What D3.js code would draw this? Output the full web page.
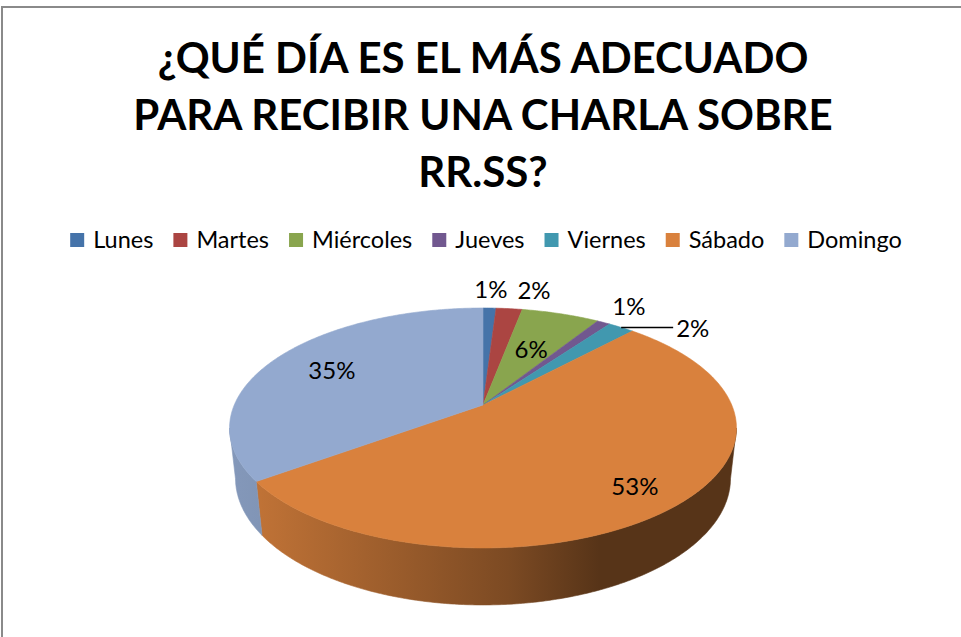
<!DOCTYPE html>
<html>
<head>
<meta charset="utf-8">
<script src="https://cdn.jsdelivr.net/npm/d3@7"></script>
<style>
  body { margin: 0; background: #fff; }
  text { font-family: Lato, "Open Sans", sans-serif; }
</style>
</head>
<body>
<div id="chart"></div>
<script>
const titleLines = ['¿QUÉ DÍA ES EL MÁS ADECUADO', 'PARA RECIBIR UNA CHARLA SOBRE', 'RR.SS?'];
const days = ['Lunes', 'Martes', 'Miércoles', 'Jueves', 'Viernes', 'Sábado', 'Domingo'];
const shares = [1, 2, 6, 1, 2, 53, 35];
const colors = ['#4573A9', '#AB4542', '#89A54E', '#71588F', '#4198AF', '#D9813D', '#93A9CF'];

const width = 961, height = 637;
const svg = d3.select('#chart')
    .append('svg')
    .attr('width', width)
    .attr('height', height);

// outer frame (only top and left visible)
svg.append('rect')
    .attr('x', 2).attr('y', 7)
    .attr('width', 1200).attr('height', 1200)
    .attr('fill', 'none')
    .attr('stroke', '#8a8a8a')
    .attr('stroke-width', 2);

// title
svg.selectAll('.title')
    .data(titleLines)
    .enter()
    .append('text')
    .attr('class', 'title')
    .attr('x', 483)
    .attr('y', (d, i) => 73 + i * 57)
    .attr('text-anchor', 'middle')
    .style('font-weight', 'bold')
    .style('font-size', '42px')
    .text(d => d);

// legend
const legend = svg.append('g');
const items = legend.selectAll('.item')
    .data(days)
    .enter()
    .append('g')
    .attr('class', 'item');
items.append('rect')
    .attr('width', 14).attr('height', 14)
    .attr('y', 233)
    .attr('fill', (d, i) => colors[i]);
items.append('text')
    .attr('y', 248)
    .style('font-size', '23.5px')
    .text(d => d);
let lx = 0;
items.each(function () {
    const g = d3.select(this);
    const w = g.select('text').node().getComputedTextLength();
    g.attr('transform', `translate(${lx},0)`);
    g.select('text').attr('x', 23);
    lx += 23 + w + 20;
});
lx -= 20;
legend.attr('transform', `translate(${486 - lx / 2},0)`);

// 3D pie with perspective projection
const cx = 483, cy = 405, F = 1150, R = 0.2163, H = 0.0498;
const phi = Math.asin(0.4646), sinP = Math.sin(phi), cosP = Math.cos(phi);
function proj(t, rho, lvl) {
    const X = R * rho * Math.sin(t), Z = R * rho * Math.cos(t), Y = -H * lvl;
    const depth = 1 + Z * cosP - Y * sinP;
    return [cx + F * X / depth, cy - F * (Y * cosP + Z * sinP) / depth];
}
function arcPts(a, b, rho, lvl) {
    const n = Math.max(2, Math.ceil(Math.abs(b - a) / 0.01));
    return d3.range(n + 1).map(i => proj(a + (b - a) * i / n, rho, lvl));
}

const pie = d3.pie().sort(null).value(d => d);
const arcs = pie(shares);
const total = d3.sum(shares);

const k = R * cosP;
const visA = Math.acos(-k), visB = 2 * Math.PI - visA;
const xs = d3.range(0, 2 * Math.PI, 0.01).map(t => proj(t, 1, 0)[0]);
const x0 = d3.min(xs), x1 = d3.max(xs);

const defs = svg.append('defs');
const shade = [[0, 0.9], [0.06, 0.88], [0.55, 0.57], [0.73, 0.40], [1, 0.40]];
arcs.forEach((a, i) => {
    const g = defs.append('linearGradient')
        .attr('id', 'side' + i)
        .attr('gradientUnits', 'userSpaceOnUse')
        .attr('x1', x0).attr('x2', x1).attr('y1', 0).attr('y2', 0);
    shade.forEach(s => {
        g.append('stop')
            .attr('offset', s[0])
            .attr('stop-color', d3.interpolateRgb('#000', colors[i])(s[1]));
    });
});

const line = d3.line();
const pieG = svg.append('g');

// outer walls (front part only)
arcs.forEach((a, i) => {
    const s = Math.max(a.startAngle, visA), e = Math.min(a.endAngle, visB);
    if (e <= s) return;
    const pts = arcPts(s, e, 1, 0).concat(arcPts(e, s, 1, 1));
    pieG.append('path')
        .attr('d', line(pts) + 'Z')
        .attr('fill', `url(#side${i})`)
        .attr('stroke', `url(#side${i})`)
        .attr('stroke-width', 0.6);
});

// top faces
arcs.forEach((a, i) => {
    const pts = [proj(0, 0, 0)].concat(arcPts(a.startAngle, a.endAngle, 1, 0));
    pieG.append('path')
        .attr('d', line(pts) + 'Z')
        .attr('fill', colors[i])
        .attr('stroke', colors[i])
        .attr('stroke-width', 0.6);
});

// data labels
const placed = [];
const labelG = svg.append('g');
arcs.forEach((a, i) => {
    const frac = a.value / total;
    const mid = (a.startAngle + a.endAngle) / 2;
    const inside = frac >= 0.05;
    const rho = inside ? 0.55 + 0.5 * frac : 1.25;
    let [x, y] = proj(mid, rho, 0);
    const t = labelG.append('text')
        .attr('text-anchor', 'middle')
        .attr('dominant-baseline', 'central')
        .style('font-size', '24px')
        .text(Math.round(frac * 100) + '%');
    const w = t.node().getComputedTextLength(), h = 16;
    if (!inside) {
        const prev = placed[placed.length - 1];
        if (prev && Math.abs(prev.y - y) < h + 2 && x - w / 2 < prev.x + prev.w / 2 + 10) {
            if (y - prev.y > 4) {
                const [ex, ey] = proj(mid, 1, 0);
                y = ey;
                const left = Math.max(prev.x + prev.w / 2 + 20, ex + 55);
                x = left + w / 2;
                labelG.append('line')
                    .attr('x1', ex).attr('y1', ey)
                    .attr('x2', left - 3).attr('y2', ey)
                    .attr('stroke', '#000')
                    .attr('stroke-width', 1.5);
            } else {
                x = prev.x + prev.w / 2 + 10 + w / 2;
            }
        }
        placed.push({x, y, w});
    }
    t.attr('x', x).attr('y', y);
});
</script>
</body>
</html>
